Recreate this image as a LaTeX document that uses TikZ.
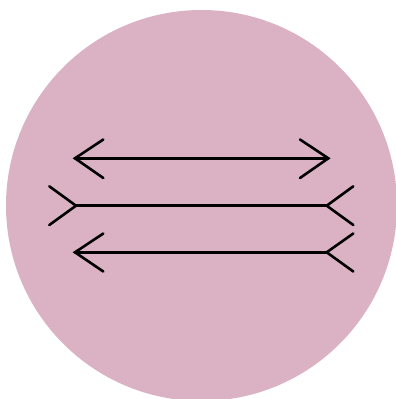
\documentclass[tikz,border=0pt]{standalone}
\definecolor{disc}{RGB}{219,178,195}
\tikzset{fin/.style={line width=2.6pt,line cap=round,line join=miter,black}}
\begin{document}
\begin{tikzpicture}[x=1pt,y=-1pt]
\useasboundingbox (0,0) rectangle (396,399);
\begin{scope}
\clip (0,0) rectangle (396,399);
\fill[disc] (201.5,205.5) circle (195.5);
\end{scope}
% top: arrowheads pointing outward
\draw[fin] (75,158.3) -- (328.3,158.3);
\draw[fin] (103.3,139.5) -- (75,158.3) -- (103.3,178);
\draw[fin] (300,139.5) -- (328.3,158.3) -- (300,178);
% middle: fins outward
\draw[fin] (76,205.7) -- (326.7,205.7);
\draw[fin] (49.3,186.3) -- (76,205.7) -- (49.3,225);
\draw[fin] (353.3,186.3) -- (326.7,205.7) -- (353.3,225);
% bottom: arrowhead left, fins right
\draw[fin] (75,252.3) -- (326.7,252.3);
\draw[fin] (103.3,233.5) -- (75,252.3) -- (103.3,271.5);
\draw[fin] (353.3,233.5) -- (326.7,252.3) -- (353.3,271.5);
\end{tikzpicture}
\end{document}
